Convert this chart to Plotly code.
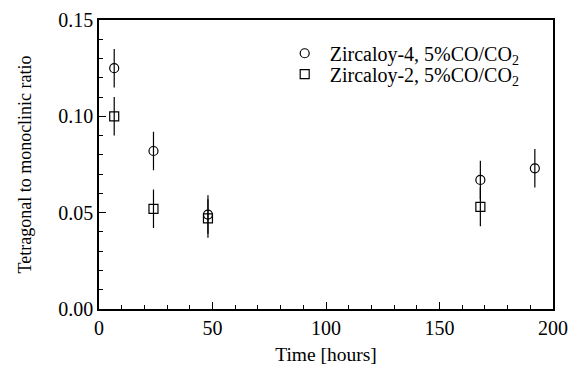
import plotly.graph_objects as go

# Zircaloy-4
z4_time = [6.7, 24, 48, 168, 192]
z4_ratio = [0.125, 0.082, 0.049, 0.067, 0.073]
z4_err = [0.010, 0.010, 0.010, 0.010, 0.010]

# Zircaloy-2
z2_time = [6.7, 24, 48, 168]
z2_ratio = [0.100, 0.052, 0.047, 0.053]
z2_err = [0.010, 0.010, 0.010, 0.010]

font_family = "'Liberation Serif', 'DejaVu Serif', serif"

fig = go.Figure()
fig.add_trace(go.Scatter(
    x=z4_time, y=z4_ratio, mode="markers",
    name="Zircaloy-4, 5%CO/CO<sub>2</sub>", legend="legend",
    marker=dict(symbol="circle-open", size=9, color="black", line=dict(width=1.2, color="black")),
    error_y=dict(type="data", array=z4_err, visible=True, color="black", thickness=1.2, width=0),
))
fig.add_trace(go.Scatter(
    x=z2_time, y=z2_ratio, mode="markers",
    name="Zircaloy-2, 5%CO/CO<sub>2</sub>", legend="legend2",
    marker=dict(symbol="square-open", size=9, color="black", line=dict(width=1.2, color="black")),
    error_y=dict(type="data", array=z2_err, visible=True, color="black", thickness=1.2, width=0),
))

axis_common = dict(
    showline=True, linecolor="black", linewidth=1.5, mirror=True, automargin=False,
    showgrid=False, zeroline=False, ticks="inside", ticklen=7, tickwidth=1, tickcolor="black",
    tickfont=dict(family=font_family, size=20, color="black"),
)

fig.update_xaxes(
    range=[0, 200], tickvals=[0, 50, 100, 150, 200],
    minor=dict(ticks="inside", ticklen=4, tickwidth=1, tickcolor="black", dtick=10),
    title=dict(text="Time [hours]", font=dict(family=font_family, size=19.5, color="black"), standoff=10),
    **axis_common,
)
fig.update_yaxes(
    range=[0, 0.15], tickvals=[0, 0.05, 0.10, 0.15], tickformat=".2f",
    minor=dict(ticks="inside", ticklen=4, tickwidth=1, tickcolor="black", dtick=0.01),
    title=dict(text="Tetragonal to monoclinic ratio", font=dict(family=font_family, size=18, color="black"), standoff=22),
    **axis_common,
)

legend_common = dict(
    xanchor="left", yanchor="middle",
    bgcolor="rgba(0,0,0,0)", borderwidth=0,
    font=dict(family=font_family, size=20, color="black"),
    itemwidth=40,
)

fig.update_layout(
    width=570, height=370,
    font=dict(family=font_family, color="black"),
    margin=dict(l=99, r=17, t=20, b=61, autoexpand=False),
    paper_bgcolor="white", plot_bgcolor="white",
    showlegend=True,
    legend=dict(x=0.398, y=0.885, **legend_common),
    legend2=dict(x=0.398, y=0.813, **legend_common),
)

fig.write_html("out.html")
